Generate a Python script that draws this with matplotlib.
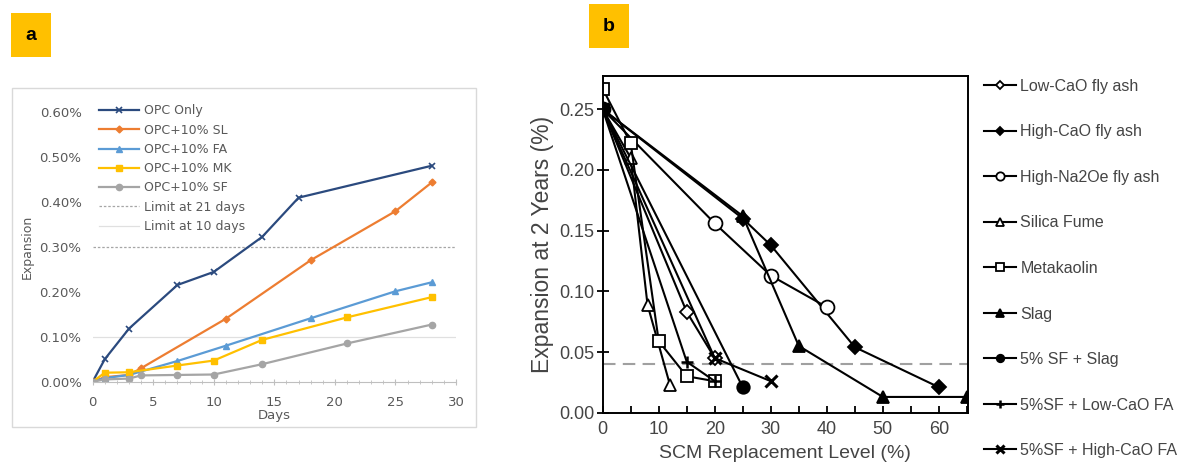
import matplotlib.pyplot as plt
from matplotlib.patches import Rectangle
from matplotlib.ticker import MultipleLocator, FuncFormatter

# ---- panel a: expansion vs days (values in %) ----
opc_days = [0, 1, 3, 7, 10, 14, 17, 28]
opc_vals = [0, 0.05, 0.118, 0.215, 0.244, 0.322, 0.409, 0.48]
sl_days = [0, 1, 3, 4, 11, 18, 25, 28]
sl_vals = [0, 0.01, 0.015, 0.03, 0.14, 0.27, 0.379, 0.443]
fa_days = [0, 1, 3, 7, 11, 18, 25, 28]
fa_vals = [0, 0.008, 0.015, 0.046, 0.08, 0.141, 0.201, 0.221]
mk_days = [0, 1, 3, 7, 10, 14, 21, 28]
mk_vals = [0, 0.02, 0.021, 0.036, 0.047, 0.093, 0.143, 0.188]
sf_days = [0, 1, 3, 4, 7, 10, 14, 21, 28]
sf_vals = [0, 0.005, 0.007, 0.014, 0.015, 0.016, 0.039, 0.085, 0.127]
limit_21 = 0.30
limit_10 = 0.10

# ---- panel b: expansion at 2 years vs SCM level ----
lowca_x = [0, 15, 20]
lowca_y = [0.25, 0.083, 0.045]
highca_x = [0, 25, 30, 45, 60]
highca_y = [0.25, 0.16, 0.138, 0.054, 0.021]
na_x = [0, 20, 30, 40]
na_y = [0.25, 0.156, 0.113, 0.087]
sfume_x = [0, 5, 8, 12]
sfume_y = [0.25, 0.21, 0.089, 0.023]
mk2_x = [0, 5, 10, 15, 20]
mk2_y = [0.267, 0.222, 0.059, 0.03, 0.026]
slag_x = [0, 25, 35, 50, 65]
slag_y = [0.25, 0.162, 0.055, 0.013, 0.013]
sfslag_x = [0, 25]
sfslag_y = [0.25, 0.021]
sflow_x = [0, 15, 20]
sflow_y = [0.25, 0.042, 0.026]
sfhigh_x = [0, 20, 30]
sfhigh_y = [0.25, 0.045, 0.026]
limit_b = 0.04

fig = plt.figure(figsize=(11.97, 4.72), dpi=100)

# panel labels
for x0, y0, txt in [(0.009, 0.879, "a"), (0.492, 0.898, "b")]:
    fig.patches.append(Rectangle((x0, y0), 0.0335, 0.094, transform=fig.transFigure,
                                 facecolor="#FFC000", edgecolor="none"))
    fig.text(x0 + 0.0167, y0 + 0.045, txt, ha="center", va="center",
             fontsize=14, weight="bold", family="Liberation Sans")

# chart area border of panel a
fig.patches.append(Rectangle((0.0098, 0.0953), 0.388, 0.718, transform=fig.transFigure,
                             facecolor="none", edgecolor="#D9D9D9", lw=1))

grey = "#595959"
ax = fig.add_axes([0.0774, 0.1913, 0.3036, 0.572])
ax.axhline(limit_21, color="#A6A6A6", ls=(0, (2, 1.5)), lw=0.9, label="Limit at 21 days")
ax.axhline(limit_10, color="#E0E0E0", ls="-", lw=0.9, label="Limit at 10 days")
ax.plot(opc_days, opc_vals, color="#2B4A7E", lw=1.6, marker="x", ms=4, mew=1.2, label="OPC Only")
ax.plot(sl_days, sl_vals, color="#ED7D31", lw=1.6, marker="D", ms=3.5, label="OPC+10% SL")
ax.plot(fa_days, fa_vals, color="#5B9BD5", lw=1.6, marker="^", ms=4.5, label="OPC+10% FA")
ax.plot(mk_days, mk_vals, color="#FFC000", lw=1.6, marker="s", ms=5, label="OPC+10% MK")
ax.plot(sf_days, sf_vals, color="#A5A5A5", lw=1.6, marker="o", ms=4.5, label="OPC+10% SF")
ax.set_xlim(0, 30)
ax.set_ylim(0, 0.6)
ax.xaxis.set_major_locator(MultipleLocator(5))
ax.xaxis.set_minor_locator(MultipleLocator(1))
ax.yaxis.set_major_locator(MultipleLocator(0.1))
ax.yaxis.set_major_formatter(FuncFormatter(lambda v, p: f"{v:.2f}%"))
for s in ["top", "right", "left"]:
    ax.spines[s].set_visible(False)
ax.spines["bottom"].set_color("#BFBFBF")
ax.tick_params(axis="x", which="both", direction="inout", color="#BFBFBF", labelcolor=grey,
               labelsize=9.5, pad=8)
ax.tick_params(axis="x", which="major", length=5)
ax.tick_params(axis="x", which="minor", length=3)
ax.tick_params(axis="y", length=0, labelcolor=grey, labelsize=9.5, pad=8)
ax.set_xlabel("Days", fontsize=9.5, color=grey, labelpad=0)
ax.set_ylabel("Expansion", fontsize=9, color=grey, labelpad=4)
h, l = ax.get_legend_handles_labels()
order = [2, 3, 4, 5, 6, 0, 1]
leg = ax.legend([h[i] for i in order], [l[i] for i in order], loc="upper left",
                bbox_to_anchor=(0.0, 1.05), frameon=False, fontsize=9, handlelength=3.2,
                labelspacing=0.5, borderpad=0, handletextpad=0.4)
for t in leg.get_texts():
    t.set_color(grey)

# ---- panel b ----
plt.rcParams["font.family"] = ["Liberation Sans", "DejaVu Sans"]
bx = fig.add_axes([0.5035, 0.1256, 0.3052, 0.7133])
kw = dict(color="black", lw=1.5, ms=9, mec="black", mew=1.3)
bx.plot(lowca_x, lowca_y, marker="D", mfc="white", label="Low-CaO fly ash", **{**kw, "ms": 7.5})
bx.plot(highca_x, highca_y, marker="D", mfc="black", label="High-CaO fly ash", **{**kw, "ms": 7.5})
bx.plot(na_x, na_y, marker="o", mfc="white", label="High-Na2Oe fly ash", **{**kw, "ms": 10})
bx.plot(sfume_x, sfume_y, marker="^", mfc="white", label="Silica Fume", **kw)
bx.plot(mk2_x, mk2_y, marker="s", mfc="white", label="Metakaolin", **{**kw, "ms": 8.5})
bx.plot(slag_x, slag_y, marker="^", mfc="black", label="Slag", **kw)
bx.plot(sfslag_x, sfslag_y, marker="o", mfc="black", label="5% SF + Slag", **kw)
bx.plot(sflow_x, sflow_y, marker="+", label="5%SF + Low-CaO FA", **{**kw, "mew": 1.8})
bx.plot(sfhigh_x, sfhigh_y, marker="x", label="5%SF + High-CaO FA", **{**kw, "mew": 2.2})
bx.axhline(limit_b, color="#A0A0A0", ls=(0, (6, 3.5)), lw=1.5, zorder=0)
bx.set_xlim(0, 65.2)
bx.set_ylim(0, 0.2774)
bx.xaxis.set_major_locator(MultipleLocator(10))
bx.xaxis.set_minor_locator(MultipleLocator(5))
bx.yaxis.set_major_locator(MultipleLocator(0.05))
bx.yaxis.set_major_formatter(FuncFormatter(lambda v, p: f"{v:.2f}"))
for s in bx.spines.values():
    s.set_linewidth(1.4)
bx.tick_params(axis="x", which="both", direction="in", length=5, width=1.3,
               labelsize=13, labelcolor="#444444", pad=6)
bx.tick_params(axis="y", direction="inout", length=8, width=1.3, labelsize=13,
               labelcolor="#444444", pad=2)
bx.set_xlabel("SCM Replacement Level (%)", fontsize=14, color="#444444", labelpad=5)
bx.set_ylabel("Expansion at 2 Years (%)", fontsize=16.5, color="#444444", labelpad=4)
legb = bx.legend(loc="upper left", bbox_to_anchor=(1.021, 1.015), frameon=False, fontsize=11.5,
                 handlelength=2.0, labelspacing=1.91, handletextpad=0.3, markerscale=0.6,
                 borderpad=0)
for t in legb.get_texts():
    t.set_color("#444444")

fig.savefig("out.png", dpi=100)
